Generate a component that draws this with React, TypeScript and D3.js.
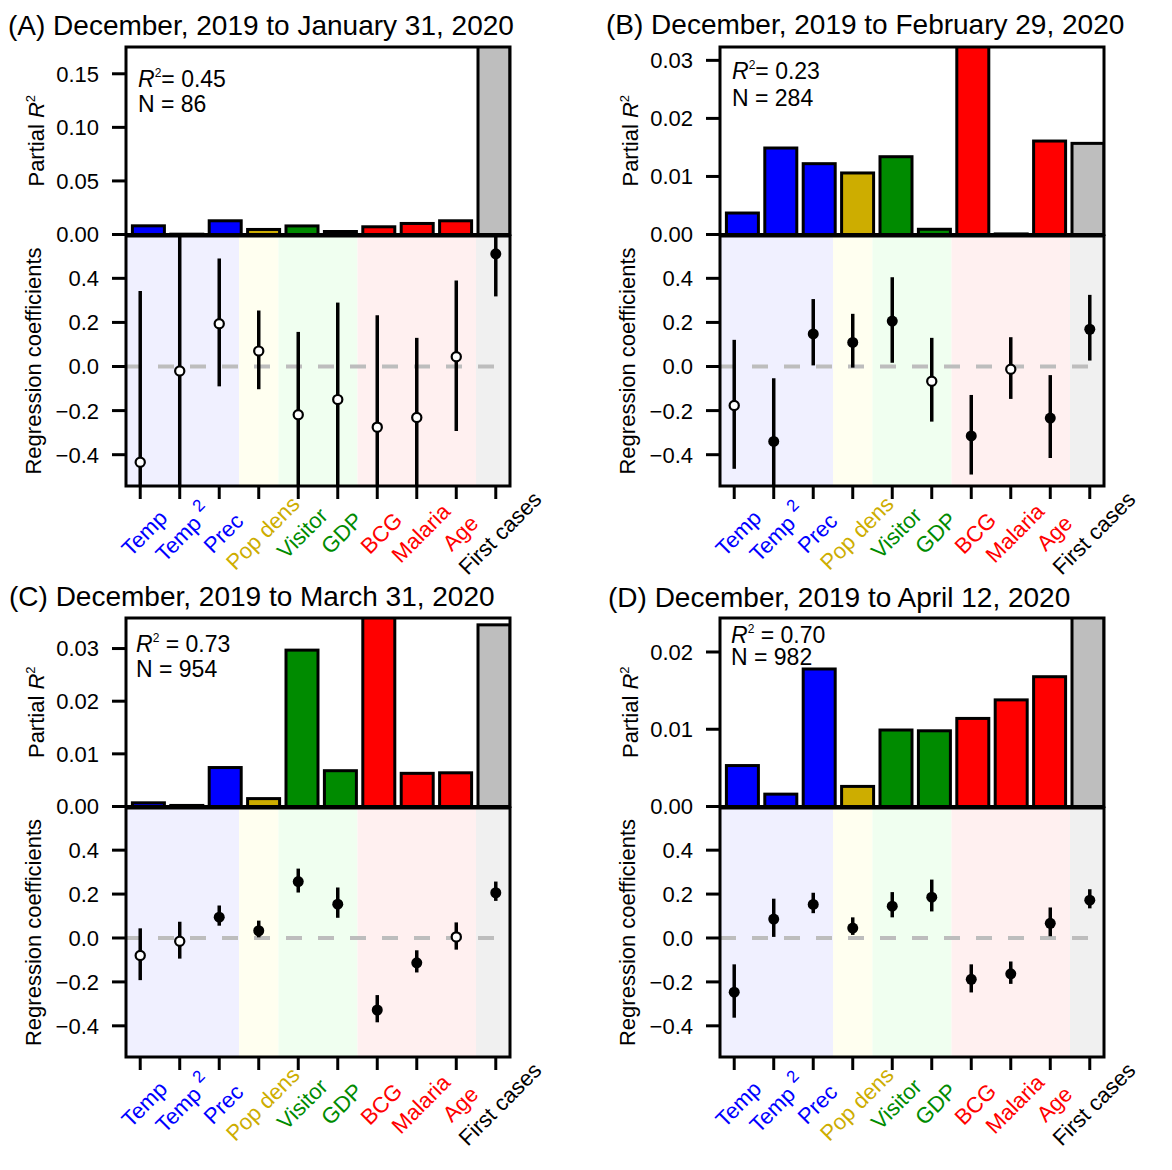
import React from "react";
import * as d3 from "d3";

// ---------------- data ----------------
const categories = ["Temp", "Temp2", "Prec", "Pop dens", "Visitor", "GDP", "BCG", "Malaria", "Age", "First cases"];
const categoryGroup = [0, 0, 0, 1, 2, 2, 3, 3, 3, 4];
const groupBarColors = ["#0000FF", "#CDAD00", "#008B00", "#FF0000", "#BEBEBE"];
const groupLabelColors = ["#0000FF", "#CDAD00", "#008B00", "#FF0000", "#000000"];
const groupBandColors = ["#F0F0FF", "#FFFFF0", "#F0FFF0", "#FFF0F0", "#F0F0F0"];

const panelTitles = [
  "(A) December, 2019 to January 31, 2020",
  "(B) December, 2019 to February 29, 2020",
  "(C) December, 2019 to March 31, 2020",
  "(D) December, 2019 to April 12, 2020",
];
const modelR2 = ["0.45", "0.23", "0.73", "0.70"];
const modelN = ["86", "284", "954", "982"];

// Partial R2 (top bars)
const partialR2A = [0.0081, 0.0003, 0.0128, 0.0047, 0.008, 0.0028, 0.0072, 0.0103, 0.0128, 0.25];
const partialR2B = [0.0037, 0.0149, 0.0122, 0.0106, 0.0134, 0.0009, 0.045, 0.0001, 0.0161, 0.0157];
const partialR2C = [0.0007, 0.0002, 0.0074, 0.0015, 0.0297, 0.0068, 0.05, 0.0063, 0.0064, 0.0345];
const partialR2D = [0.0053, 0.0016, 0.0178, 0.0026, 0.0099, 0.0098, 0.0114, 0.0138, 0.0168, 0.04];
const topYMax = [0.175, 0.0323, 0.0358, 0.0244];
const topTicksA = [0, 0.05, 0.1, 0.15];
const topTicksB = [0, 0.01, 0.02, 0.03];
const topTicksC = [0, 0.01, 0.02, 0.03];
const topTicksD = [0, 0.01, 0.02];

// Regression coefficients (bottom)
const coefA = [-0.434, -0.02, 0.194, 0.07, -0.219, -0.15, -0.275, -0.231, 0.044, 0.511];
const ciLowA = [-1.2, -1.3, -0.09, -0.103, -0.7, -0.7, -0.8, -0.7, -0.293, 0.318];
const ciHighA = [0.342, 1.3, 0.49, 0.254, 0.157, 0.29, 0.233, 0.13, 0.39, 0.7];
const sigA = [false, false, false, false, false, false, false, false, false, true];

const coefB = [-0.177, -0.34, 0.148, 0.109, 0.206, -0.067, -0.315, -0.012, -0.234, 0.169];
const ciLowB = [-0.464, -0.7, 0.005, -0.005, 0.017, -0.25, -0.49, -0.147, -0.415, 0.027];
const ciHighB = [0.121, -0.053, 0.306, 0.239, 0.405, 0.13, -0.129, 0.133, -0.039, 0.325];
const sigB = [false, true, true, true, true, false, true, false, true, true];

const coefC = [-0.08, -0.015, 0.095, 0.033, 0.257, 0.154, -0.328, -0.113, 0.005, 0.206];
const ciLowC = [-0.192, -0.094, 0.056, 0.003, 0.207, 0.092, -0.384, -0.157, -0.053, 0.169];
const ciHighC = [0.044, 0.074, 0.148, 0.079, 0.316, 0.23, -0.26, -0.056, 0.071, 0.257];
const sigC = [false, false, true, true, true, true, true, true, false, true];

const coefD = [-0.247, 0.086, 0.153, 0.045, 0.145, 0.186, -0.188, -0.163, 0.067, 0.172];
const ciLowD = [-0.363, 0.005, 0.113, 0.014, 0.094, 0.121, -0.248, -0.209, 0.008, 0.135];
const ciHighD = [-0.12, 0.179, 0.206, 0.094, 0.209, 0.266, -0.12, -0.107, 0.139, 0.222];
const sigD = [true, true, true, true, true, true, true, true, true, true];

const lowYLim = [-0.5, 0.55];
const lowTicks = [-0.4, -0.2, 0, 0.2, 0.4];

const panels = [
  { title: panelTitles[0], r2: modelR2[0], n: modelN[0], bars: partialR2A, yMax: topYMax[0], ticks: topTicksA, coef: coefA, lo: ciLowA, hi: ciHighA, sig: sigA },
  { title: panelTitles[1], r2: modelR2[1], n: modelN[1], bars: partialR2B, yMax: topYMax[1], ticks: topTicksB, coef: coefB, lo: ciLowB, hi: ciHighB, sig: sigB },
  { title: panelTitles[2], r2: modelR2[2], n: modelN[2], bars: partialR2C, yMax: topYMax[2], ticks: topTicksC, coef: coefC, lo: ciLowC, hi: ciHighC, sig: sigC },
  { title: panelTitles[3], r2: modelR2[3], n: modelN[3], bars: partialR2D, yMax: topYMax[3], ticks: topTicksD, coef: coefD, lo: ciLowD, hi: ciHighD, sig: sigD },
];

// ---------------- layout ----------------
const layouts = [
  { left: 126, right: 510, top: 47, mid: 234.5, lowTop: 236, bottom: 486, titleX: 8, titleY: 35, textX: 138, r2Y: 87, nY: 112, eqSpace: false },
  { left: 720, right: 1104, top: 47, mid: 234.5, lowTop: 236, bottom: 486, titleX: 606, titleY: 34, textX: 732, r2Y: 79, nY: 106, eqSpace: false },
  { left: 126, right: 510, top: 618, mid: 806.5, lowTop: 808, bottom: 1057, titleX: 9, titleY: 606, textX: 136, r2Y: 652, nY: 677, eqSpace: true },
  { left: 720, right: 1104, top: 618, mid: 806.5, lowTop: 808, bottom: 1057, titleX: 608, titleY: 607, textX: 731, r2Y: 643, nY: 665, eqSpace: true },
];

const FONT = "'Liberation Sans', Arial, Helvetica, sans-serif";
const fmtMinus = (s: string) => s.replace("-", "\u2212");

function Panel({ p, L, idx }: any) {
  const xTop = d3.scaleLinear().domain([0, 12]).range([L.left, L.right]);
  const yTop = d3.scaleLinear().domain([0, p.yMax]).range([L.mid, L.top]);
  const ext = (lowYLim[1] - lowYLim[0]) * 0.04;
  const yLow = d3.scaleLinear().domain([lowYLim[0] - ext, lowYLim[1] + ext]).range([L.bottom, L.lowTop]);
  const n = categories.length;
  const xext = (n - 1) * 0.04;
  const xLow = d3.scaleLinear().domain([1 - xext, n + xext]).range([L.left, L.right]);
  const [xd0, xd1] = xLow.domain();

  const groups = d3.groups(categories.map((c, i) => ({ c, i, g: categoryGroup[i] })), (d) => d.g);
  const bands = groups.map(([g, items]) => {
    const a = Math.max(xd0, d3.min(items, (d) => d.i + 1)! - 0.5);
    const b = Math.min(xd1, d3.max(items, (d) => d.i + 1)! + 0.5);
    return { g, a, b };
  });

  const clipTop = `clipTop${idx}`;
  const clipLow = `clipLow${idx}`;
  const topFmt = d3.format(".2f");
  const lowFmt = d3.format(".1f");

  return (
    <g>
      <defs>
        <clipPath id={clipTop}>
          <rect x={L.left} y={L.top} width={L.right - L.left} height={L.mid - L.top} />
        </clipPath>
        <clipPath id={clipLow}>
          <rect x={L.left} y={L.lowTop} width={L.right - L.left} height={L.bottom - L.lowTop} />
        </clipPath>
      </defs>
      <text x={L.titleX} y={L.titleY} fontSize={28} fontFamily={FONT}>{p.title}</text>

      {/* top bars */}
      <g clipPath={`url(#${clipTop})`}>
        {p.bars.map((v: number, i: number) => (
          <rect key={i} x={xTop(0.2 + 1.2 * i)} width={xTop(1.2 + 1.2 * i) - xTop(0.2 + 1.2 * i)}
            y={yTop(v)} height={yTop(0) - yTop(v)}
            fill={groupBarColors[categoryGroup[i]]} stroke="#000" strokeWidth={3} />
        ))}
      </g>
      <rect x={L.left} y={L.top} width={L.right - L.left} height={L.mid - L.top} fill="none" stroke="#000" strokeWidth={3} />
      {p.ticks.map((t: number) => (
        <g key={t}>
          <line x1={L.left - 14} x2={L.left} y1={yTop(t)} y2={yTop(t)} stroke="#000" strokeWidth={3} />
          <text x={L.left - 27} y={yTop(t)} dy="0.36em" textAnchor="end" fontSize={22} fontFamily={FONT}>{topFmt(t)}</text>
        </g>
      ))}
      <text transform={`translate(${L.left - 82.5},${(L.top + L.mid) / 2}) rotate(-90)`} textAnchor="middle" fontSize={22} fontFamily={FONT}>
        Partial <tspan fontStyle="italic">R</tspan><tspan fontSize={13} dy={-9}>2</tspan>
      </text>
      <text x={L.textX} y={L.r2Y} fontSize={23} fontFamily={FONT}>
        <tspan fontStyle="italic">R</tspan><tspan fontSize={12} dy={-10}>2</tspan><tspan dy={10}>{L.eqSpace ? " = " : "= "}{p.r2}</tspan>
      </text>
      <text x={L.textX} y={L.nY} fontSize={23} fontFamily={FONT}>N = {p.n}</text>

      {/* bottom coefficient panel */}
      {bands.map((b) => (
        <rect key={b.g} x={xLow(b.a)} width={xLow(b.b) - xLow(b.a)} y={L.lowTop} height={L.bottom - L.lowTop} fill={groupBandColors[b.g]} />
      ))}
      <line x1={L.left} x2={L.right} y1={yLow(0)} y2={yLow(0)} stroke="#BDBDBD" strokeWidth={4} strokeDasharray="16,16" />
      <g clipPath={`url(#${clipLow})`}>
        {p.coef.map((v: number, i: number) => (
          <line key={i} x1={xLow(i + 1)} x2={xLow(i + 1)} y1={yLow(p.lo[i])} y2={yLow(p.hi[i])} stroke="#000" strokeWidth={3.5} />
        ))}
      </g>
      {p.coef.map((v: number, i: number) =>
        p.sig[i] ? (
          <circle key={i} cx={xLow(i + 1)} cy={yLow(v)} r={5.5} fill="#000" />
        ) : (
          <circle key={i} cx={xLow(i + 1)} cy={yLow(v)} r={4.6} fill="#fff" stroke="#000" strokeWidth={2.2} />
        )
      )}
      <rect x={L.left} y={L.lowTop} width={L.right - L.left} height={L.bottom - L.lowTop} fill="none" stroke="#000" strokeWidth={3} />
      {lowTicks.map((t) => (
        <g key={t}>
          <line x1={L.left - 14} x2={L.left} y1={yLow(t)} y2={yLow(t)} stroke="#000" strokeWidth={3} />
          <text x={L.left - 27} y={yLow(t)} dy="0.36em" textAnchor="end" fontSize={22} fontFamily={FONT}>{fmtMinus(lowFmt(t))}</text>
        </g>
      ))}
      <text transform={`translate(${L.left - 85},${(L.lowTop + L.bottom) / 2}) rotate(-90)`} textAnchor="middle" fontSize={22} fontFamily={FONT}>
        Regression coefficients
      </text>
      {categories.map((c, i) => (
        <g key={c}>
          <line x1={xLow(i + 1)} x2={xLow(i + 1)} y1={L.bottom} y2={L.bottom + 13} stroke="#000" strokeWidth={3} />
          <text transform={`translate(${xLow(i + 1) + 4},${L.bottom + 47}) rotate(-45)`} textAnchor="middle" dy="0.35em"
            fontSize={22} fontFamily={FONT} fill={groupLabelColors[categoryGroup[i]]}>
            {c === "Temp2" ? (
              <>Temp <tspan fontSize={17} dy={-11}>2</tspan></>
            ) : c}
          </text>
        </g>
      ))}
    </g>
  );
}

export default function App() {
  return (
    <svg width={1172} height={1170} style={{ position: "absolute", left: 0, top: 0, background: "#fff" }}>
      <rect width={1172} height={1170} fill="#fff" />
      {panels.map((p, i) => (
        <Panel key={i} p={p} L={layouts[i]} idx={i} />
      ))}
    </svg>
  );
}
